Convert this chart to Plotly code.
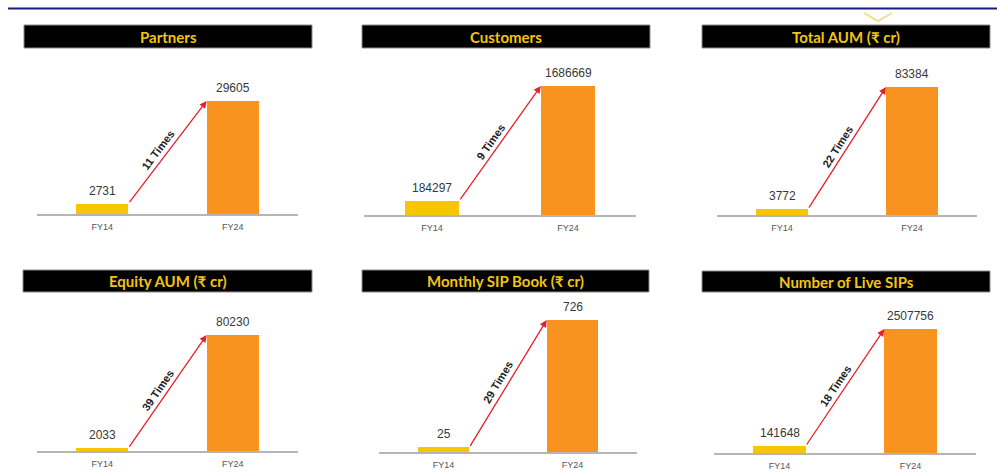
import math
import plotly.graph_objects as go

# ---------------- data ----------------
titles = ["Partners", "Customers", "Total AUM (₹ cr)",
          "Equity AUM (₹ cr)", "Monthly SIP Book (₹ cr)", "Number of Live SIPs"]
categories = ["FY14", "FY24"]
fy14_values = [2731, 184297, 3772, 2033, 25, 141648]
fy24_values = [29605, 1686669, 83384, 80230, 726, 2507756]
growth_labels = ["11 Times", "9 Times", "22 Times", "39 Times", "29 Times", "18 Times"]

# ---------------- layout geometry (pixels) ----------------
W, H = 997, 474
# (plot x0, plot x1, baseline y, FY24 bar-top y, header x0, header x1, header y0, header y1)
geom = [
    (37, 298, 214, 101, 24, 312, 25, 48),
    (364, 636, 215, 86, 362, 650, 25, 48),
    (717, 977, 215, 87, 702, 990, 25, 48),
    (37, 298, 451, 335, 23, 312, 270, 292),
    (379, 637, 452, 320, 362, 649, 270, 292),
    (714, 976, 453, 329, 702, 990, 271, 292),
]
row_top = [55, 55, 55, 297, 297, 297]

YELLOW = "#F7C600"
ORANGE = "#F7931E"
RED = "#E8202A"
HEAD_TXT = "#F2C511"

fig = go.Figure()
shapes = []
annotations = []


def fx(px):
    return px / W


def fy(py):
    return 1 - py / H


for i in range(6):
    n = i + 1
    xa = "x" if n == 1 else f"x{n}"
    ya = "y" if n == 1 else f"y{n}"
    x0, x1, base, bartop, hx0, hx1, hy0, hy1 = geom[i]
    top = row_top[i]
    v14, v24 = fy14_values[i], fy24_values[i]
    ymax = v24 * (base - top) / (base - bartop)
    plot_h = base - top
    plot_w = x1 - x0

    fig.add_trace(go.Bar(
        x=[0, 1], y=[v14, v24], width=0.4,
        marker=dict(color=[YELLOW, ORANGE], line=dict(width=0)),
        xaxis=xa, yaxis=ya, showlegend=False, hoverinfo="skip",
    ))

    xkey = "xaxis" if n == 1 else f"xaxis{n}"
    ykey = "yaxis" if n == 1 else f"yaxis{n}"
    fig.update_layout(**{
        xkey: dict(domain=[fx(x0), fx(x1)], anchor=ya, range=[-0.5, 1.5],
                   tickvals=[0, 1], ticktext=categories, showline=True,
                   linecolor="#B5B5B5", linewidth=1.5, showgrid=False,
                   zeroline=False, ticks="", ticklabelstandoff=3,
                   tickfont=dict(family="Liberation Sans, Arial", size=9, color="#555555"),
                   fixedrange=True),
        ykey: dict(domain=[fy(base), fy(top)], anchor=xa, range=[0, ymax],
                   visible=False, showgrid=False, zeroline=False, fixedrange=True),
    })

    # value labels
    for xv, v in ((0, v14), (1, v24)):
        annotations.append(dict(
            x=xv, y=v, xref=xa, yref=ya, text=str(v), showarrow=False,
            yanchor="bottom", yshift=4,
            font=dict(family="Liberation Sans, Arial", size=12, color="#383838"),
        ))

    # growth arrow
    annotations.append(dict(
        x=0.8, y=v24, xref=xa, yref=ya, ax=0.2, ay=v14, axref=xa, ayref=ya,
        text="", showarrow=True, arrowhead=2, arrowsize=1.1, arrowwidth=1.3,
        arrowcolor=RED, standoff=0, startstandoff=0,
    ))
    # rotated growth text
    dx = 0.6 * plot_w / 2.0
    dy = (v24 - v14) / ymax * plot_h
    th = math.atan2(dy, dx)
    perp, along = 9, -4
    annotations.append(dict(
        x=0.5, y=(v14 + v24) / 2, xref=xa, yref=ya, text=growth_labels[i],
        showarrow=False, textangle=-math.degrees(th),
        xshift=-perp * math.sin(th) + along * math.cos(th),
        yshift=perp * math.cos(th) + along * math.sin(th),
        font=dict(family="Liberation Sans, Arial", size=11, color="#222222", weight="bold"),
    ))

    # header box
    shapes.append(dict(type="rect", xref="paper", yref="paper",
                       x0=fx(hx0), x1=fx(hx1), y0=fy(hy1), y1=fy(hy0),
                       fillcolor="#000000", line=dict(color="#8C8C8C", width=1),
                       layer="below"))
    annotations.append(dict(
        x=fx((hx0 + hx1) / 2), y=fy((hy0 + hy1) / 2), xref="paper", yref="paper",
        text=titles[i], showarrow=False, xanchor="center", yanchor="middle",
        font=dict(family="Lato, Noto Sans", size=15, color=HEAD_TXT, weight="bold"),
    ))

# top navy rule
shapes.append(dict(type="line", xref="paper", yref="paper",
                   x0=fx(8), x1=1, y0=fy(8.5), y1=fy(8.5),
                   line=dict(color="#1B1B80", width=2)))
# decorative chevron
shapes.append(dict(type="path", xref="paper", yref="paper",
                   path=f"M {fx(864)} {fy(13)} L {fx(878)} {fy(21)} L {fx(892)} {fy(13)}",
                   line=dict(color="#F3DE86", width=2)))

fig.update_layout(
    width=W, height=H, margin=dict(l=0, r=0, t=0, b=0),
    paper_bgcolor="white", plot_bgcolor="rgba(0,0,0,0)",
    shapes=shapes, annotations=annotations, bargap=0,
)

fig.write_html("out.html", config={"displayModeBar": False})
